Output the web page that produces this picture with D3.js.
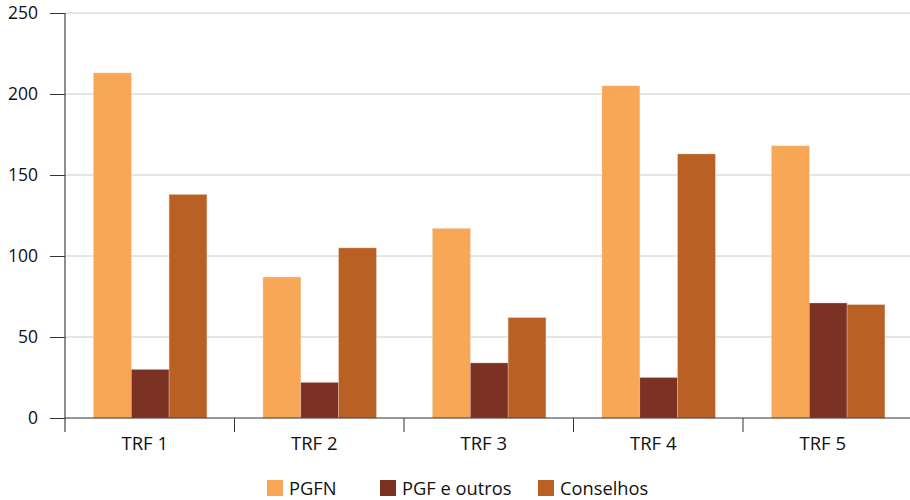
<!DOCTYPE html>
<html><head><meta charset="utf-8">
<script src="https://cdn.jsdelivr.net/npm/d3@7"></script>
<style>body{margin:0;background:#fff}svg{display:block}text{font-family:"Open Sans","Noto Sans",sans-serif;fill:#111}</style>
</head><body>
<svg id="c" width="910" height="500"></svg>
<script>
const categories = ["TRF 1","TRF 2","TRF 3","TRF 4","TRF 5"];
const seriesNames = ["PGFN","PGF e outros","Conselhos"];
const pgfn = [213, 87, 117, 205, 168];
const pgfOutros = [30, 22, 34, 25, 71];
const conselhos = [138, 105, 62, 163, 70];
const yTicks = [0, 50, 100, 150, 200, 250];
const colors = ["#F7A755", "#7B3223", "#B96024"];

const series = [pgfn, pgfOutros, conselhos];
const svg = d3.select("#c");
const m = {l: 65, r: 912.5, t: 13, b: 418};
const FS = 17.5;
const x = d3.scaleBand().domain(categories).range([m.l, m.r]).paddingInner(0).paddingOuter(0);
const x1 = d3.scaleBand().domain(seriesNames).range([28.5, 28.5 + 113.4]).paddingInner(0).paddingOuter(0);
const y = d3.scaleLinear().domain([0, 250]).range([m.b, m.t]);

// gridlines
svg.append("g").selectAll("line").data(yTicks.filter(d => d > 0)).join("line")
  .attr("x1", m.l).attr("x2", 910).attr("y1", d => y(d)).attr("y2", d => y(d))
  .attr("stroke", d => d === 250 ? "#dddddd" : "#cccccc").attr("stroke-width", d => d === 250 ? 1.5 : 1);

// bars
const g = svg.append("g");
categories.forEach((c, i) => {
  seriesNames.forEach((s, j) => {
    g.append("rect")
      .attr("x", x(c) + x1(s))
      .attr("width", x1.bandwidth())
      .attr("y", y(series[j][i]))
      .attr("height", y(0) - y(series[j][i]))
      .attr("fill", colors[j])
      .attr("stroke", "#f0d0c0").attr("stroke-width", 0.6).attr("stroke-opacity", 0.6);
  });
});

// y axis
const yAxis = d3.axisLeft(y).tickValues(yTicks).tickSize(15).tickPadding(12);
const ya = svg.append("g").attr("transform", `translate(${m.l},0)`).call(yAxis);
ya.select(".domain").remove();
ya.selectAll(".tick line").attr("stroke", "#333");
ya.selectAll(".tick text").attr("font-size", FS).style("font-family", '"Open Sans","Noto Sans",sans-serif').attr("fill", "#111");
svg.append("line").attr("x1", m.l).attr("x2", m.l).attr("y1", m.t).attr("y2", m.b + 14).attr("stroke", "#444").attr("stroke-width", 1.2);

// x axis baseline and ticks
svg.append("line").attr("x1", m.l).attr("x2", 910).attr("y1", m.b).attr("y2", m.b).attr("stroke", "#333").attr("stroke-width", 1.2);
const xa = d3.axisBottom(x).tickSize(0).tickPadding(19);
const xg = svg.append("g").attr("transform", `translate(0,${m.b})`).call(xa);
xg.select(".domain").remove();
xg.selectAll(".tick text").attr("font-size", 18.5).attr("dx", -5).style("font-family", '"Open Sans","Noto Sans",sans-serif').attr("fill", "#111");
svg.append("g").selectAll("line").data(categories.slice(1)).join("line")
  .attr("x1", d => x(d)).attr("x2", d => x(d)).attr("y1", m.b).attr("y2", m.b + 14)
  .attr("stroke", "#333").attr("stroke-width", 1);

// legend
const legendX = [267, 380, 538];
const lg = svg.append("g");
seriesNames.forEach((s, j) => {
  lg.append("rect").attr("x", legendX[j]).attr("y", 480).attr("width", 16).attr("height", 16).attr("fill", colors[j]);
  lg.append("text").attr("x", legendX[j] + 22).attr("y", 495).attr("font-size", 18.3).text(s);
});
</script>
</body></html>
